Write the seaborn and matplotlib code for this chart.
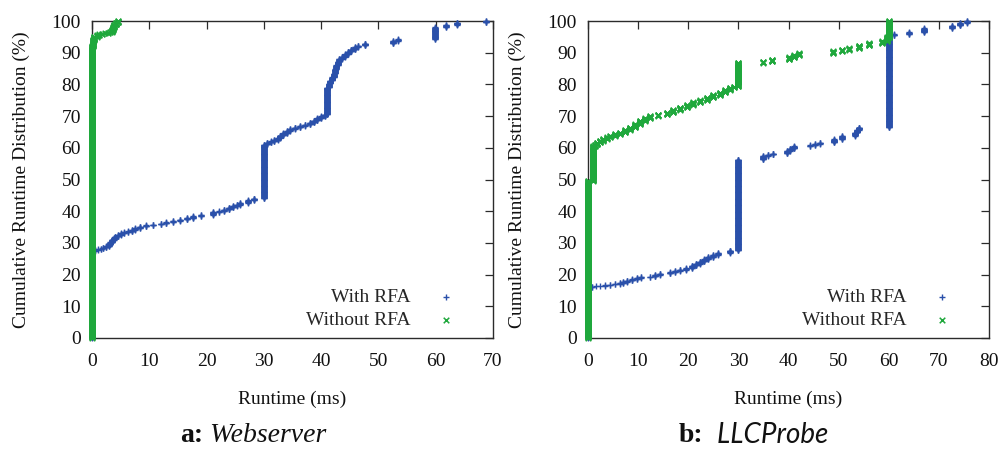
import numpy as np
import pandas as pd
import seaborn as sns
import matplotlib.pyplot as plt

# Runtime samples (ms) and how many samples took each runtime (1000 samples per run)
web_rfa_ms = [0.0, 0.5, 1.0, 1.5, 2.0, 2.5, 2.9, 3.2, 3.5, 3.8, 4.1, 4.5, 5.0, 5.6, 6.3,
              6.9, 7.5, 8.4, 9.5, 10.7, 12.0, 13.0, 14.2, 15.4, 16.5, 17.7, 19.0, 21.2,
              22.2, 23.0, 24.0, 24.7, 25.3, 25.8, 27.3, 28.2, 30.0, 30.5, 31.2, 31.8,
              32.4, 32.9, 33.4, 34.0, 34.6, 35.5, 36.3, 37.2, 38.0, 38.7, 39.2, 40.0,
              40.7, 41.0, 41.3, 41.6, 41.9, 42.2, 42.4, 42.6, 42.9, 43.2, 43.7, 44.2,
              44.7, 45.2, 45.9, 46.4, 47.6, 52.6, 53.5, 59.9, 61.8, 63.7, 68.8]
web_rfa_n = [275, 3, 2, 2, 3, 4, 6, 7, 7, 6, 5, 5, 5, 3, 3,
             5, 5, 5, 4, 3, 3, 4, 4, 4, 5, 6, 4, 9,
             3, 5, 6, 5, 4, 6, 8, 6, 170, 6, 4, 5,
             6, 7, 8, 7, 6, 5, 5, 4, 6, 7, 7, 6,
             6, 85, 12, 10, 10, 12, 14, 12, 12, 8, 7, 8,
             8, 7, 8, 4, 7, 8, 5, 38, 7, 8, 5]

web_norfa_ms = [0.0, 0.15, 0.4, 0.8, 1.3, 1.8, 2.3, 2.8, 3.2, 3.5, 3.7, 3.9, 4.2, 4.5]
web_norfa_n = [920, 20, 10, 5, 3, 2, 1, 2, 2, 7, 8, 8, 7, 5]

llc_rfa_ms = [0.0, 0.7, 1.5, 2.4, 3.4, 4.4, 5.4, 6.4, 7.0, 7.7, 8.7, 9.7, 10.5, 12.4,
              13.4, 14.4, 16.4, 17.4, 18.4, 19.5, 20.7, 21.5, 22.4, 23.2, 24.0, 25.0,
              26.0, 28.3, 30.0, 35.0, 36.0, 37.0, 39.7, 40.3, 41.0, 44.3, 45.3, 46.3,
              49.0, 50.6, 53.3, 53.7, 54.0, 60.0, 61.0, 64.0, 67.0, 72.6, 74.3, 75.6]
llc_rfa_n = [160, 2, 1, 1, 2, 2, 2, 3, 4, 4, 4, 4, 3, 2,
             5, 4, 4, 4, 4, 5, 8, 6, 7, 7, 7, 7,
             6, 8, 287, 11, 4, 4, 8, 7, 8, 3, 4, 4,
             11, 10, 11, 8, 8, 290, 4, 6, 13, 8, 9, 6]

llc_norfa_ms = [0.0, 0.9, 1.3, 1.7, 2.4, 3.0, 3.7, 4.4, 5.4, 6.4, 7.4, 8.4, 9.4, 10.4,
                11.4, 12.4, 14.0, 15.7, 17.0, 18.4, 19.7, 21.0, 22.3, 23.7, 25.0, 26.3,
                27.3, 28.3, 29.2, 30.0, 35.0, 36.7, 40.0, 41.0, 42.0, 48.8, 50.6, 52.0,
                54.0, 56.0, 58.6, 59.6, 60.0]
llc_norfa_n = [495, 110, 5, 6, 6, 6, 5, 4, 6, 5, 8, 8, 10, 11,
               8, 7, 5, 6, 8, 8, 8, 8, 7, 8, 8, 8,
               8, 8, 3, 75, 4, 6, 7, 7, 6, 6, 5, 5,
               8, 8, 6, 12, 52]

series_labels = ["With RFA", "Without RFA"]
x_limits = [70, 80]
panel_letters = ["a:", "b:"]
panel_names = ["Webserver", "LLCProbe"]

BLUE = "#2a50aa"
GREEN = "#1fa83c"
DARK = "#2b2b2b"
TEXT = "#111111"
FS = 14


def cdf_frame(ms, counts):
    runtimes = np.repeat(np.asarray(ms, float), counts)
    runtimes.sort()
    pct = np.arange(1, runtimes.size + 1) / runtimes.size * 100.0
    return pd.DataFrame({"runtime": runtimes, "cdf": pct})


sns.set_style("white")
plt.rcParams["font.family"] = ["Liberation Serif", "DejaVu Serif"]

fig = plt.figure(figsize=(10.03, 4.49), dpi=100)
ax_w, ax_h = 401 / 1003, 317 / 449
bottom = (449 - 338) / 449
axes = [fig.add_axes([92 / 1003, bottom, ax_w, ax_h]),
        fig.add_axes([588 / 1003, bottom, ax_w, ax_h])]

panels = [
    (cdf_frame(web_rfa_ms, web_rfa_n), cdf_frame(web_norfa_ms, web_norfa_n)),
    (cdf_frame(llc_rfa_ms, llc_rfa_n), cdf_frame(llc_norfa_ms, llc_norfa_n)),
]

for ax, (rfa, norfa), xmax in zip(axes, panels, x_limits):
    sns.scatterplot(data=rfa, x="runtime", y="cdf", marker="+", color=BLUE,
                    s=16, linewidth=1.0, ax=ax, label=series_labels[0],
                    clip_on=False, zorder=3)
    sns.scatterplot(data=norfa, x="runtime", y="cdf", marker="x", color=GREEN,
                    s=16, linewidth=1.1, ax=ax, label=series_labels[1],
                    clip_on=False, zorder=4)
    ax.set_xlim(0, xmax)
    ax.set_ylim(0, 100)
    ax.set_xticks(np.arange(0, xmax + 1, 10))
    ax.set_yticks(np.arange(0, 101, 10))
    ax.tick_params(direction="in", length=6, width=0.9, color=DARK,
                   top=True, right=True, labelsize=FS, labelcolor=TEXT)
    ax.tick_params(axis="x", pad=11)
    ax.tick_params(axis="y", pad=8)
    for sp in ax.spines.values():
        sp.set_color(DARK)
        sp.set_linewidth(1.0)
    ax.set_xlabel("Runtime (ms)", fontsize=FS, color=TEXT)
    ax.set_ylabel("Cumulative Runtime Distribution (%)", fontsize=FS,
                  color=TEXT, va="center")
    ax.xaxis.set_label_coords(0.5, -0.165)
    ax.yaxis.set_label_coords(-0.175, 0.5)

    leg = ax.legend(loc="lower right", bbox_to_anchor=(0.908, 0.028),
                    frameon=False, markerfirst=False, fontsize=FS,
                    handlelength=1.0, handletextpad=1.35, labelspacing=0.3,
                    borderpad=0, borderaxespad=0, scatterpoints=1)
    leg._legend_box._children[1]._children[0].align = "right"

# Panel captions: bold letter followed by the italic benchmark name
cap_x = [180 / 1003, 679 / 1003]
cap_y = (449 - 442) / 449
name_fonts = [dict(family=["Liberation Serif"], style="italic"),
              dict(family=["Lato", "DejaVu Sans"], style="italic")]
gaps = [" ", "  "]
for x0, letter, name, nf, gap in zip(cap_x, panel_letters, panel_names, name_fonts, gaps):
    t = fig.text(x0, cap_y, letter, fontsize=20, fontweight="bold",
                 va="baseline", ha="left", color=TEXT)
    axes[0].annotate(gap + name, xy=(1, 0), xycoords=t, va="bottom", ha="left",
                     fontsize=20, color=TEXT, annotation_clip=False, **nf)

fig.savefig("out.png", dpi=100)
